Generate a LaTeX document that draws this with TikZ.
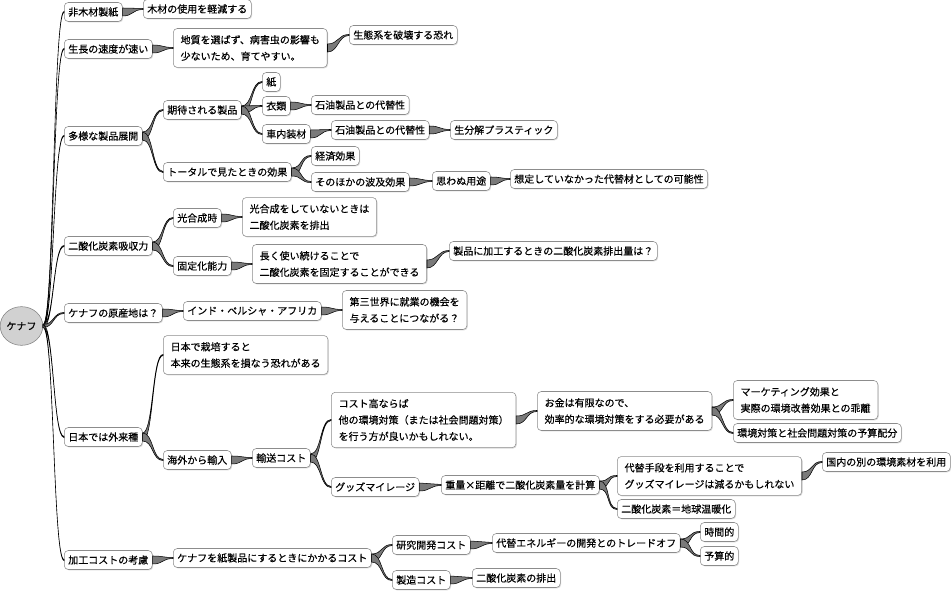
\documentclass[tikz,border=0pt]{standalone}
\usepackage{fontspec}
\setmainfont{Noto Sans CJK JP}[FakeBold=0.4]
\usetikzlibrary{shapes.geometric, shadows}

\begin{document}
\begin{tikzpicture}[x=0.75pt, y=-0.75pt,
  box/.style={draw=black!45, fill=white, rounded corners=3pt, anchor=west, inner xsep=3pt, inner ysep=0pt, minimum height=14.25pt, font=\fontsize{7.5}{12.3}\selectfont, drop shadow={shadow xshift=.7pt, shadow yshift=-.7pt, fill=black!30}},
  note/.style={box, align=left, inner xsep=5.5pt, inner ysep=5pt},
  twig/.style={fill=black!52, to path={([yshift=#1]\tikztostart.east) .. controls +(11,0) and +(-11,0) .. ([yshift=.4pt]\tikztotarget.west) -- ([yshift=-.4pt]\tikztotarget.west) .. controls +(-11,0) and +(11,0) .. ([yshift=-#1]\tikztostart.east) -- cycle}},
  twig/.default=3pt, stem/.style={twig=1.1pt}]
\useasboundingbox (0,0) rectangle (951,591);
\node[ellipse, draw=black!50, fill=black!18, minimum width=32pt, minimum height=29pt, inner sep=0pt, font=\fontsize{7.5}{9}\selectfont] (k) at (21.5,326) {ケナフ};

\node[box] (a1) at (64,12) {非木材製紙};
\node[box] (a2) at (64,49) {生長の速度が速い};
\node[box] (a3) at (64,136) {多様な製品展開};
\node[box] (a4) at (64,246) {二酸化炭素吸収力};
\node[box] (a5) at (64,313) {ケナフの原産地は？};
\node[box] (a6) at (64,437) {日本では外来種};
\node[box] (a7) at (64,560) {加工コストの考慮};

\node[box] (b1) at (143,9) {木材の使用を軽減する};
\node[note] (b2) at (173,48) {地質を選ばず、病害虫の影響も\\少ないため、育てやすい。};
\node[box] (b3) at (163,110) {期待される製品};
\node[box] (b4) at (163,172) {トータルで見たときの効果};
\node[box] (b5) at (173,218) {光合成時};
\node[box] (b6) at (173,266) {固定化能力};
\node[box] (b7) at (183,311) {インド・ペルシャ・アフリカ};
\node[note] (b8) at (163,355) {日本で栽培すると\\本来の生態系を損なう恐れがある};
\node[box] (b9) at (163,460) {海外から輸入};
\node[box] (b10) at (173,558) {ケナフを紙製品にするときにかかるコスト};

\node[box] (c1) at (349,35) {生態系を破壊する恐れ};
\node[box] (c2) at (262,82) {紙};
\node[box] (c3) at (262,106) {衣類};
\node[box] (c4) at (262,134) {車内装材};
\node[box] (c5) at (311,156) {経済効果};
\node[box] (c6) at (311,182) {そのほかの波及効果};
\node[note] (c7) at (242,217) {光合成をしていないときは\\二酸化炭素を排出};
\node[note] (c8) at (252,264) {長く使い続けることで\\二酸化炭素を固定することができる};
\node[note] (c9) at (342,310) {第三世界に就業の機会を\\与えることにつながる？};
\node[box] (c10) at (252,458) {輸送コスト};
\node[box] (c11) at (392,545) {研究開発コスト};
\node[box] (c12) at (392,580) {製造コスト};

\node[box] (d1) at (311,105) {石油製品との代替性};
\node[box] (d2) at (331,130) {石油製品との代替性};
\node[box] (d3) at (432,181) {思わぬ用途};
\node[box] (d4) at (449,251) {製品に加工するときの二酸化炭素排出量は？};
\node[note] (d5) at (331,420) {コスト高ならば\\他の環境対策（または社会問題対策）\\を行う方が良いかもしれない。};
\node[box] (d6) at (331,487) {グッズマイレージ};
\node[box] (d7) at (492,543) {代替エネルギーの開発とのトレードオフ};
\node[box] (d8) at (472,578) {二酸化炭素の排出};

\node[box] (e1) at (450,130) {生分解プラスティック};
\node[box] (e2) at (510,179) {想定していなかった代替材としての可能性};
\node[note] (e3) at (537,411) {お金は有限なので、\\効率的な環境対策をする必要がある};
\node[box] (e4) at (441,485) {重量×距離で二酸化炭素量を計算};
\node[box] (e5) at (700,532) {時間的};
\node[box] (e6) at (700,556) {予算的};

\node[note] (f1) at (733,400) {マーケティング効果と\\実際の環境改善効果との乖離};
\node[box] (f2) at (733,433) {環境対策と社会問題対策の予算配分};
\node[note] (f3) at (617,476) {代替手段を利用することで\\グッズマイレージは減るかもしれない};
\node[box] (f4) at (617,509) {二酸化炭素＝地球温暖化};
\node[box] (g1) at (822,462) {国内の別の環境素材を利用};

\path (k) edge[stem] (a1) edge[stem] (a2) edge[stem] (a3) edge[stem] (a4) edge[stem] (a5) edge[stem] (a6) edge[stem] (a7);
\path (a1) edge[twig] (b1);
\path (a2) edge[twig] (b2);
\path (a3) edge[twig] (b3) edge[twig] (b4);
\path (a4) edge[twig] (b5) edge[twig] (b6);
\path (a5) edge[twig] (b7);
\path (a6) edge[twig] (b8) edge[twig] (b9);
\path (a7) edge[twig] (b10);
\path (b2) edge[twig] (c1);
\path (b3) edge[twig] (c2) edge[twig] (c3) edge[twig] (c4);
\path (b4) edge[twig] (c5) edge[twig] (c6);
\path (b5) edge[twig] (c7);
\path (b6) edge[twig] (c8);
\path (b7) edge[twig] (c9);
\path (b9) edge[twig] (c10);
\path (b10) edge[twig] (c11) edge[twig] (c12);
\path (c3) edge[twig] (d1);
\path (c4) edge[twig] (d2);
\path (c6) edge[twig] (d3);
\path (c8) edge[twig] (d4);
\path (c10) edge[twig] (d5) edge[twig] (d6);
\path (c11) edge[twig] (d7);
\path (c12) edge[twig] (d8);
\path (d2) edge[twig] (e1);
\path (d3) edge[twig] (e2);
\path (d5) edge[twig] (e3);
\path (d6) edge[twig] (e4);
\path (d7) edge[twig] (e5) edge[twig] (e6);
\path (e3) edge[twig] (f1) edge[twig] (f2);
\path (e4) edge[twig] (f3) edge[twig] (f4);
\path (f3) edge[twig] (g1);
\end{tikzpicture}
\end{document}
